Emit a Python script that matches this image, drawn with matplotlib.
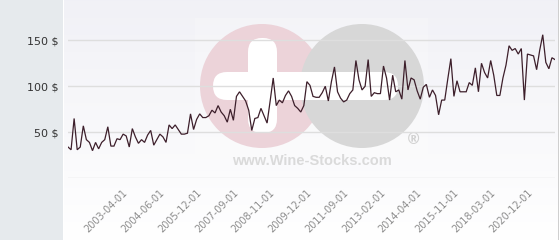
import numpy as np
import matplotlib
matplotlib.use("Agg")
import matplotlib.pyplot as plt
from matplotlib.patches import Circle, FancyBboxPatch, Rectangle
from matplotlib.transforms import ScaledTranslation

# ---- data ----
values = [34, 31, 65, 31, 34, 57, 42, 39, 30, 39, 32, 39, 42, 56, 35, 35, 43, 42, 48, 46,
          34, 54, 45, 38, 42, 39, 47, 52, 36, 42, 48, 45, 39, 58, 54, 58, 53, 48, 48, 49,
          70, 53, 64, 70, 66, 66, 68, 74, 71, 79, 72, 68, 61, 75, 63, 89, 94, 89, 84, 74,
          52, 65, 66, 76, 68, 60, 84, 109, 79, 85, 82, 90, 95, 89, 79, 76, 72, 79, 105, 101,
          89, 88, 88, 93, 100, 84, 105, 121, 94, 87, 83, 85, 92, 96, 128, 107, 96, 100, 129, 89,
          93, 92, 92, 122, 109, 85, 112, 94, 96, 86, 128, 96, 109, 107, 95, 86, 99, 102, 88, 96,
          90, 69, 85, 85, 108, 130, 89, 106, 94, 94, 94, 104, 101, 120, 94, 125, 115, 109, 128, 112,
          90, 90, 109, 123, 144, 139, 141, 135, 141, 85, 135, 134, 133, 118, 139, 156, 126, 119, 131, 129]
tick_positions = [20, 32, 44, 56, 68, 80, 92, 104, 116, 128, 140, 152]
tick_labels = ["2003-04-01", "2004-06-01", "2005-12-01", "2007-09-01", "2008-11-01",
               "2009-12-01", "2011-09-01", "2013-02-01", "2014-04-01", "2015-11-01",
               "2018-03-01", "2020-12-01"]
y_ticks = [50, 100, 150]
y_tick_labels = ["50 $", "100 $", "150 $"]

W, H = 560, 240
fig = plt.figure(figsize=(W / 100, H / 100), dpi=100)
fig.patch.set_facecolor("white")

# background layer (pixel coordinates)
bg = fig.add_axes([0, 0, 1, 1], zorder=0)
bg.set_xlim(0, W)
bg.set_ylim(H, 0)
bg.axis("off")
grad = np.linspace(0, 1, 256)[:, None]
top = np.array([0.945, 0.945, 0.965])
bot = np.array([1.0, 1.0, 1.0])
img = top[None, None, :] * (1 - grad[:, :, None]) + bot[None, None, :] * grad[:, :, None]
bg.imshow(img, extent=[64, 558, H, 0], aspect="auto", zorder=0)
bg.add_patch(Rectangle((0, 0), 63, H, facecolor="#e6eaed", edgecolor="none", zorder=1))
bg.add_patch(Rectangle((557.5, 0), 1, H, facecolor="#cfcfcf", edgecolor="none", zorder=1))

# watermark
bg.add_patch(Rectangle((195, 18), 233, 156, facecolor="white", alpha=0.2, edgecolor="none", zorder=2))
bg.add_patch(Circle((262, 86), 62, facecolor="#ecd3d9", edgecolor="none", zorder=3))
bg.add_patch(Circle((362, 86), 62, facecolor="#d7d7d7", edgecolor="none", zorder=4))
bg.add_patch(FancyBboxPatch((213, 72), 185, 28, boxstyle="round,pad=0,rounding_size=14",
                            facecolor="white", edgecolor="none", zorder=5))
bg.add_patch(FancyBboxPatch((248, 38), 29, 95, boxstyle="round,pad=0,rounding_size=14",
                            facecolor="white", edgecolor="none", zorder=5))
bg.text(312, 161, "www.Wine-Stocks.com", ha="center", va="center", fontsize=10.5,
        fontweight="bold", family="Liberation Sans", color="#dadada", zorder=6)
bg.text(413, 140, "®", ha="center", va="center", fontsize=11, fontweight="bold",
        family="DejaVu Sans", color="#d2d2d2", zorder=6)

# main chart
ax = fig.add_axes([68 / W, (H - 178.3) / H, 487 / W, 158.3 / H], zorder=2)
ax.patch.set_alpha(0)
x = np.arange(len(values))
ax.plot(x, values, color="#3d1f2b", lw=0.9, zorder=3, solid_joinstyle="miter")
ax.set_xlim(0, len(values) - 1)
ax.set_ylim(0, 172)
ax.set_yticks([0] + y_ticks)
ax.set_yticklabels([""] + y_tick_labels)
ax.grid(axis="y", color="#dedede", lw=1)
ax.set_axisbelow(True)
for s in ax.spines.values():
    s.set_visible(False)
ax.tick_params(axis="y", length=0, pad=6.5, labelsize=8, labelcolor="#333333")
ax.set_xticks(tick_positions)
ax.set_xticklabels(tick_labels, rotation=45, ha="right", va="center", rotation_mode="anchor")
ax.tick_params(axis="x", length=0, pad=9, labelsize=7, labelcolor="#8c8c8c")
off = ScaledTranslation(-3 / 100, 0, fig.dpi_scale_trans)
for lab in ax.get_xticklabels():
    lab.set_transform(lab.get_transform() + off)

fig.savefig("out.png", dpi=100)
